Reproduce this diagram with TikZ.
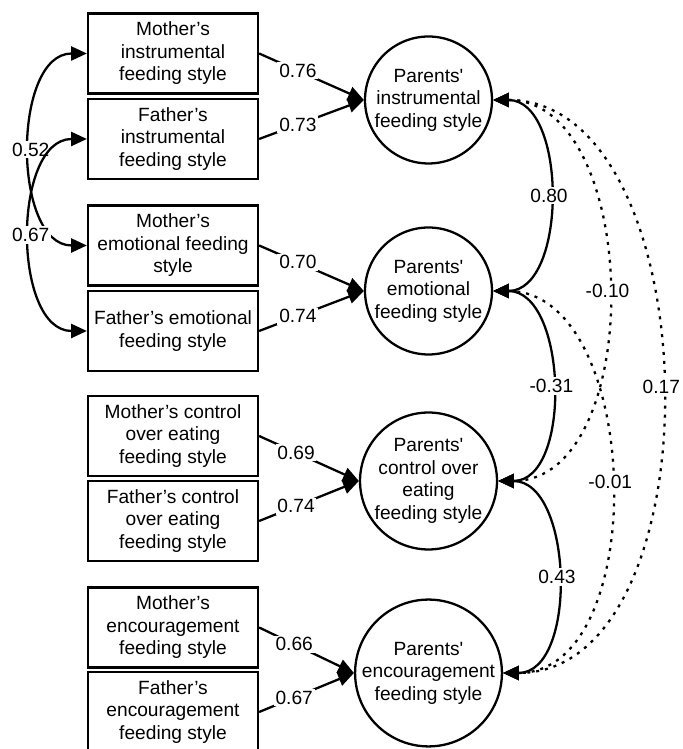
\documentclass[tikz,border=0pt]{standalone}
\usepackage{fontspec}
\setmainfont{Liberation Sans}
\usetikzlibrary{arrows.meta}
\tikzset{
	fstyle/.style={draw, line width=1.3pt, minimum width=3.4cm, minimum height=1.6cm, align=center, inner sep=0pt},
	latent/.style={draw, circle, line width=1.3pt, minimum size=2.54cm, align=center, inner sep=0pt},
	link/.style={line width=1.3pt, -{Triangle[length=9pt,width=8pt]}},
	corr/.style={line width=1.3pt, {Triangle[length=9pt,width=8pt]}-{Triangle[length=9pt,width=8pt]}},
	weak/.style={corr, dash pattern=on 1.7pt off 3.4pt},
	coef/.style={fill=white, inner sep=1pt}
}

\begin{document}
\begin{tikzpicture}[x=0.02cm, y=0.02cm, font=\fontsize{10.9pt}{12.8pt}\selectfont]
			%%%%% START %%%%%
			
			\useasboundingbox (0, 0) rectangle (682, 749);
			\clip (0, 0) rectangle (682, 749);
			
			% parents' feeding styles
			\node[fstyle] (mi) at (173, 695.5) {Mother’s\\instrumental\\feeding style};
			\node[fstyle] (fi) at (173, 610) {Father’s\\instrumental\\feeding style};
			\node[fstyle] (me) at (173, 503.5) {Mother’s\\emotional feeding\\style};
			\node[fstyle] (fe) at (173, 418) {Father’s emotional\\feeding style};
			\node[fstyle] (mc) at (173, 313) {Mother’s control\\over eating\\feeding style};
			\node[fstyle] (fc) at (173, 228) {Father’s control\\over eating\\feeding style};
			\node[fstyle] (mg) at (173, 121.5) {Mother’s\\encouragement\\feeding style};
			\node[fstyle] (fg) at (173, 37) {Father’s\\encouragement\\feeding style};
			
			% latent factors
			\node[latent] (pi) at (428.5, 649) {Parents\textquotesingle\\instrumental\\feeding style};
			\node[latent] (pe) at (428.5, 458) {Parents\textquotesingle\\emotional\\feeding style};
			\node[latent] (pc) at (428.5, 268) {Parents\textquotesingle\\control over\\eating\\feeding style};
			\node[latent] (pg) at (428.5, 76) {Parents\textquotesingle\\encouragement\\feeding style};
			
			% loadings
			\draw[link] (mi.east) -- node[coef, pos=0.37] {0.76} (pi.west);
			\draw[link] (fi.east) -- node[coef, pos=0.37] {0.73} (pi.west);
			\draw[link] (me.east) -- node[coef, pos=0.37] {0.70} (pe.west);
			\draw[link] (fe.east) -- node[coef, pos=0.37] {0.74} (pe.west);
			\draw[link] (mc.east) -- node[coef, pos=0.37] {0.69} (pc.west);
			\draw[link] (fc.east) -- node[coef, pos=0.37] {0.74} (pc.west);
			\draw[link] (mg.east) -- node[coef, pos=0.37] {0.66} (pg.west);
			\draw[link] (fg.east) -- node[coef, pos=0.37] {0.67} (pg.west);
			
			% mother-father correlations
			\draw[corr] (mi.west) to[out=180, in=180] node[coef] {0.52} (me.west);
			\draw[corr] (fi.west) to[out=180, in=180] node[coef] {0.67} (fe.west);
			
			% factor correlations
			\draw[weak] (pi.east) to[out=0, in=0, looseness=0.97] node[coef] {0.17} (pg.east);
			\draw[weak] (pi.east) to[out=0, in=0] node[coef] {-0.10} (pc.east);
			\draw[weak] (pe.east) to[out=0, in=0] node[coef] {-0.01} (pg.east);
			\draw[corr] (pi.east) to[out=0, in=0] node[coef] {0.80} (pe.east);
			\draw[corr] (pe.east) to[out=0, in=0] node[coef] {-0.31} (pc.east);
			\draw[corr] (pc.east) to[out=0, in=0] node[coef] {0.43} (pg.east);
			
			%%%%% END %%%%%
		\end{tikzpicture}
\end{document}
